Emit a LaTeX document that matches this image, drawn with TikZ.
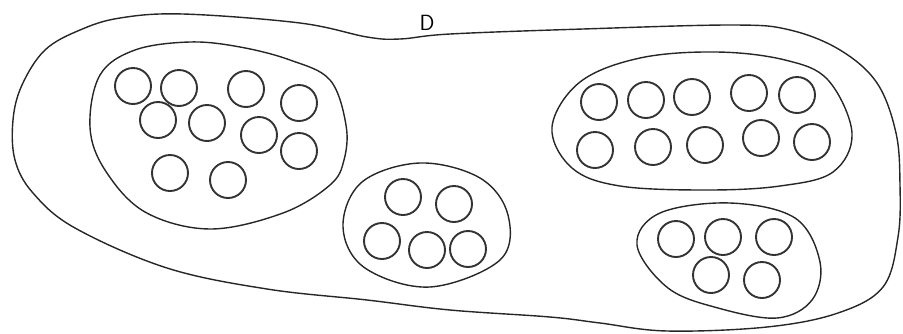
\documentclass[tikz,border=0pt]{standalone}
\begin{document}
\begin{tikzpicture}[x=1pt,y=-1pt,
  outline/.style={draw=black!85,line width=1.4pt,line join=round},
  ball/.style={circle,draw=black!80,line width=1.9pt,minimum size=36pt,inner sep=0pt}]
\useasboundingbox (0,0) rectangle (903,333);
% outer region D
\draw[outline] plot[smooth cycle,tension=0.6] coordinates {
 (183,14) (300,23) (367,37) (400,39) (450,34) (583,29) (733,25) (790,30)
 (840,50) (877,83) (896,133) (900,185) (898,237) (883,287) (838,313)
 (767,327) (667,331) (600,323) (550,317) (450,310) (367,300) (267,289)
 (167,268) (75,228) (33,193) (15,160) (13,120) (22,85) (45,50) (80,30) (120,18)};
\node[font=\sffamily\fontsize{22}{22}\selectfont] (D) at (427,23) {D};
% cluster 1
\draw[outline] plot[smooth cycle,tension=0.6] coordinates {
 (190,42) (240,47) (290,60) (330,80) (346,125) (344,160) (330,185) (283,213)
 (210,229) (145,212) (105,170) (90,127) (100,75) (135,50)};
\foreach \n/\p in {a1/{(133,86)},a2/{(179,88)},a3/{(246,89)},a4/{(299,103)},
  a5/{(158,120)},a6/{(207,123)},a7/{(259,135)},a8/{(299,151)},
  a9/{(170,173)},a10/{(228,180)}}
  \node[ball] (\n) at \p {};
% cluster 2
\draw[outline] plot[smooth cycle,tension=0.6] coordinates {
 (420,163) (480,178) (508,215) (500,260) (430,287) (365,268) (343,227) (362,182)};
\foreach \n/\p in {b1/{(403,197)},b2/{(454,204)},b3/{(382,241)},b4/{(427,250)},b5/{(468,249)}}
  \node[ball] (\n) at \p {};
% cluster 3
\draw[outline] plot[smooth cycle,tension=0.6] coordinates {
 (717,52) (785,60) (828,80) (852,133) (833,172) (780,186) (707,190) (620,186)
 (572,168) (552,127) (580,82) (640,58)};
\foreach \n/\p in {c1/{(599,102)},c2/{(646,100)},c3/{(692,97)},c4/{(749,93)},c5/{(797,95)},
  c6/{(595,150)},c7/{(653,147)},c8/{(705,145)},c9/{(761,138)},c10/{(812,142)}}
  \node[ball] (\n) at \p {};
% cluster 4
\draw[outline] plot[smooth cycle,tension=0.6] coordinates {
 (730,203) (795,218) (820,262) (812,300) (777,318) (718,308) (668,288) (637,245) (660,213)};
\foreach \n/\p in {d1/{(676,239)},d2/{(723,237)},d3/{(774,237)},d4/{(711,275)},d5/{(762,280)}}
  \node[ball] (\n) at \p {};
\end{tikzpicture}
\end{document}
